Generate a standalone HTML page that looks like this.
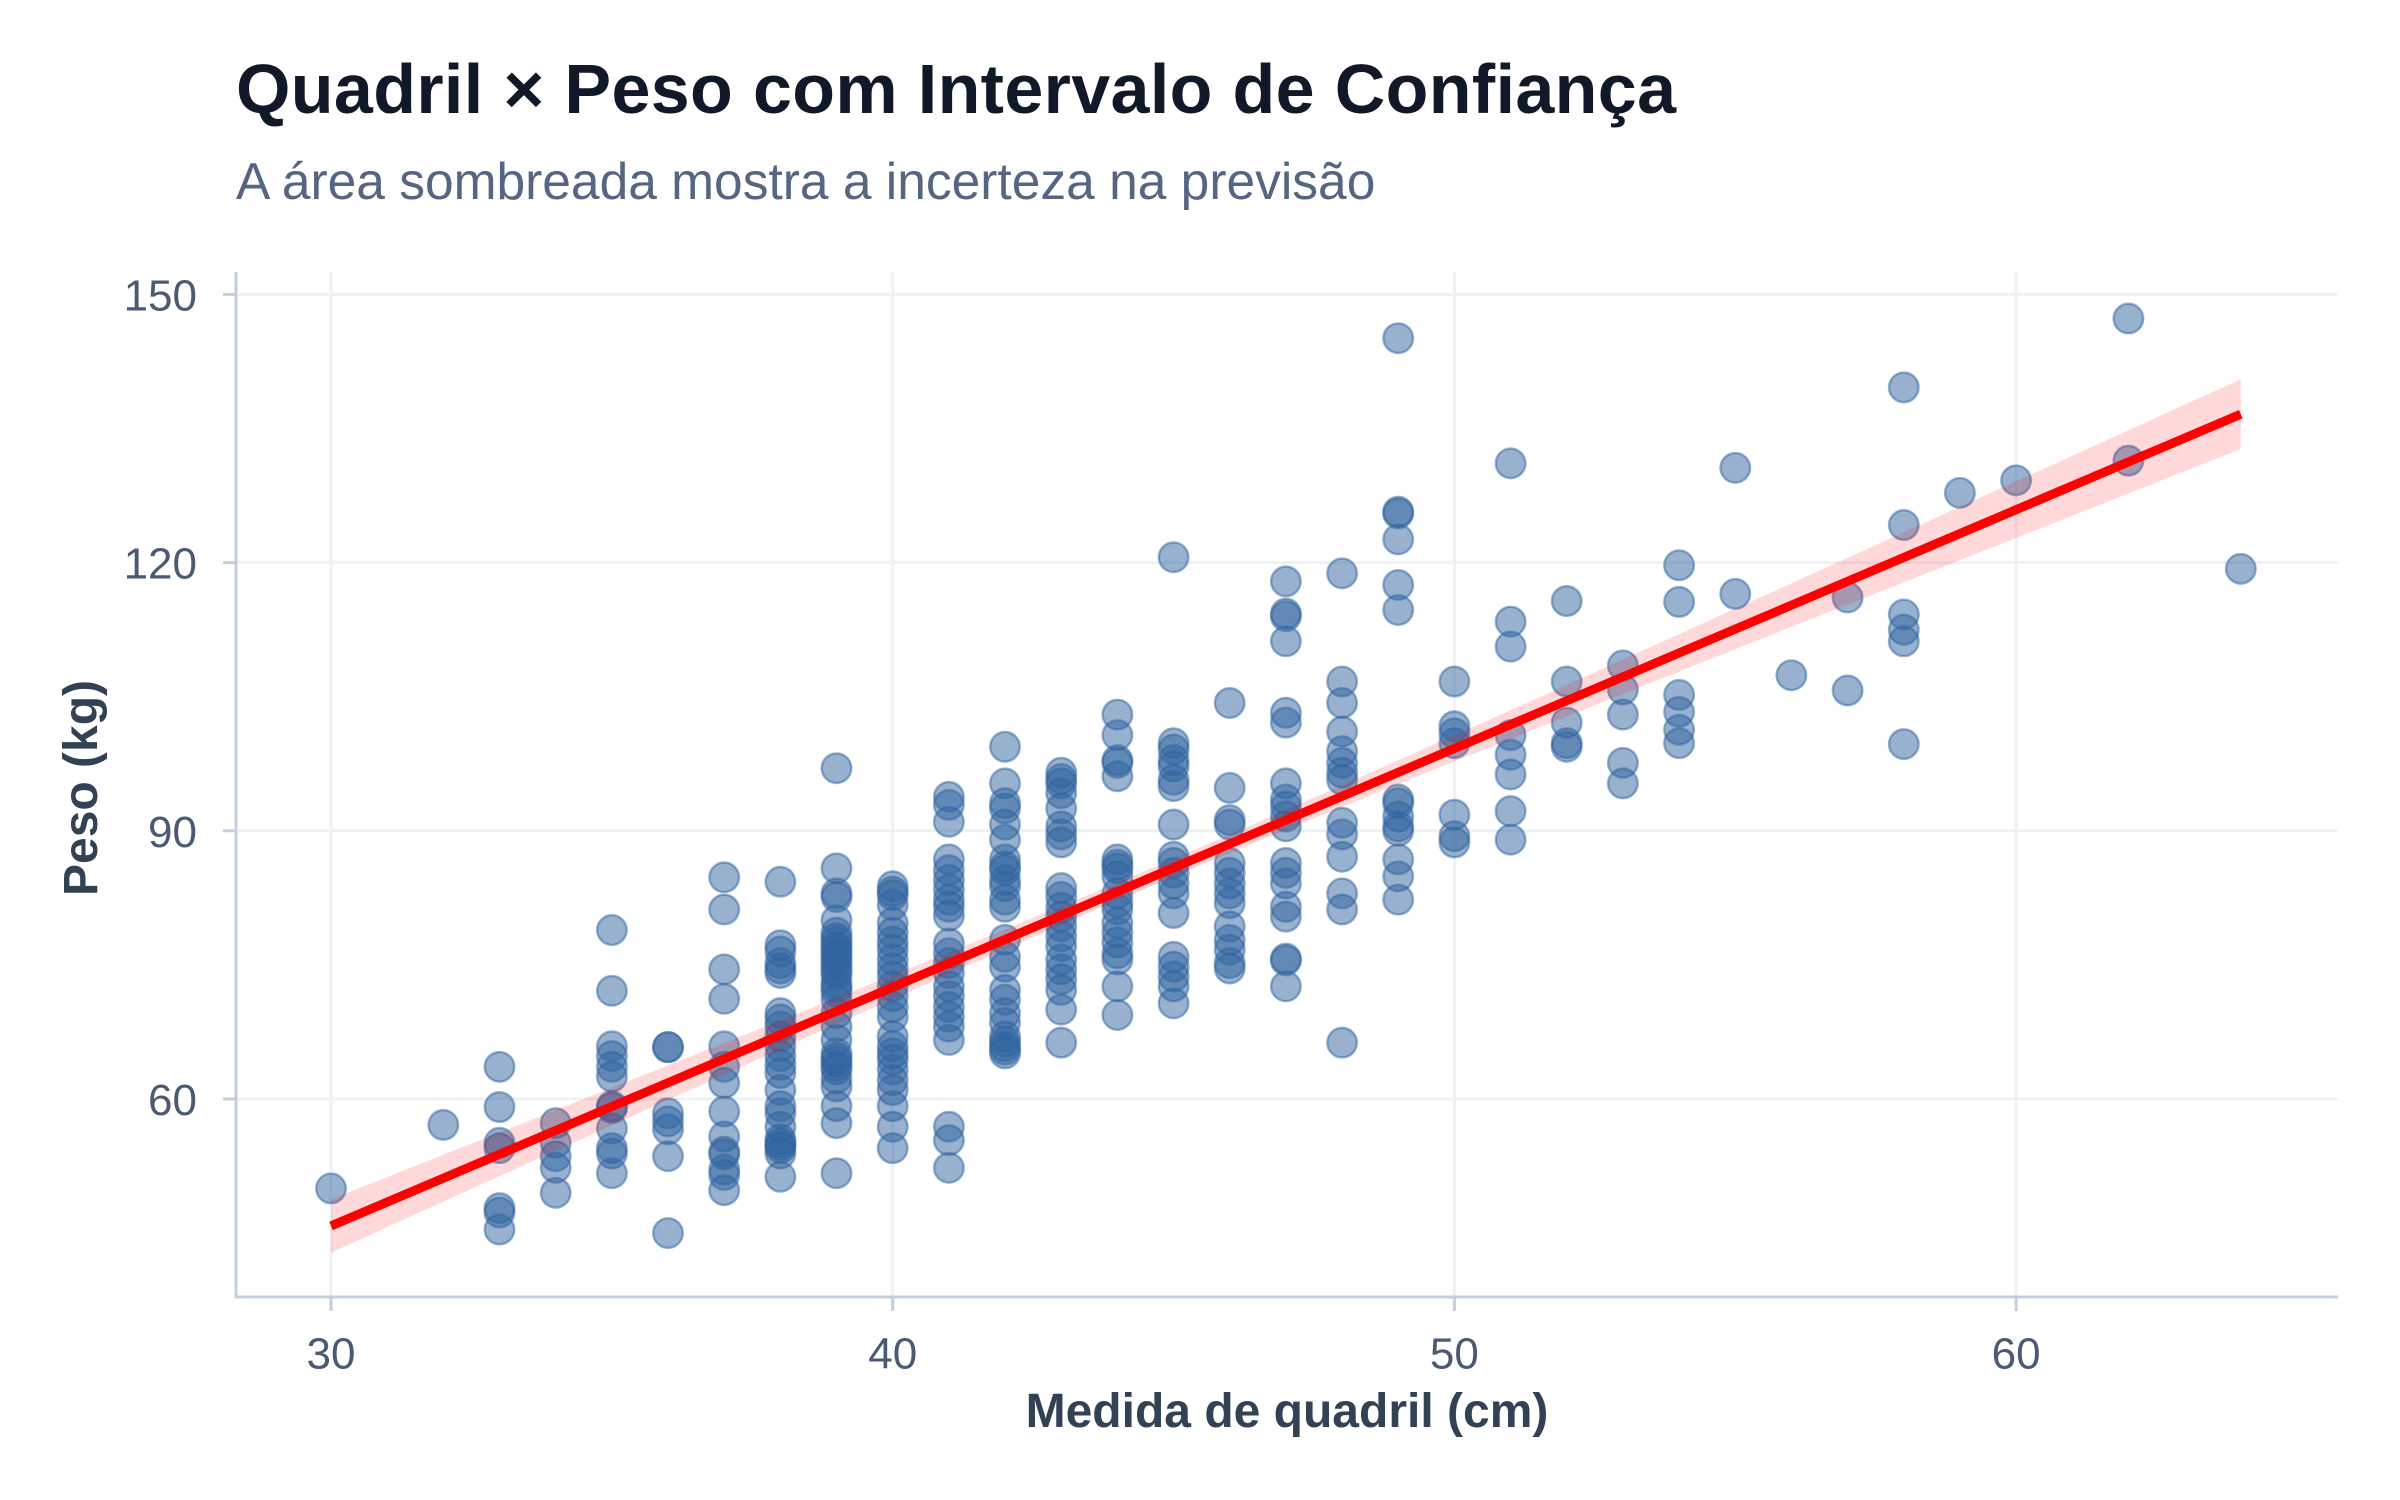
<!DOCTYPE html>
<html>
<head>
<meta charset="utf-8">
<style>
html,body{margin:0;padding:0;background:#ffffff;}
svg{display:block;}
text{font-family:"Liberation Sans",Arial,Helvetica,sans-serif;}
#pts circle{fill:#3064a0;fill-opacity:.5;stroke:#3064a0;stroke-opacity:.5;stroke-width:2.4;transform:translate(var(--x),calc(1635.4px - 8.94px * var(--v)));}
</style>
</head>
<body>
<svg width="2400" height="1500" viewBox="0 0 2400 1500" xmlns="http://www.w3.org/2000/svg">
<rect width="2400" height="1500" fill="#ffffff"/>
<g stroke="#eef1f6" stroke-width="3">
<line x1="331" y1="272" x2="331" y2="1297"/>
<line x1="892.7" y1="272" x2="892.7" y2="1297"/>
<line x1="1454.4" y1="272" x2="1454.4" y2="1297"/>
<line x1="2016.1" y1="272" x2="2016.1" y2="1297"/>
<line x1="236" y1="294.4" x2="2338" y2="294.4"/>
<line x1="236" y1="562.6" x2="2338" y2="562.6"/>
<line x1="236" y1="830.8" x2="2338" y2="830.8"/>
<line x1="236" y1="1099" x2="2338" y2="1099"/>
</g>
<g id="pts">
<g style="--x:331px"><circle r="14.8" style="--v:50.0"/></g>
<g style="--x:443.3px"><circle r="14.8" style="--v:57.1"/></g>
<g style="--x:499.5px"><circle r="14.8" style="--v:63.6"/><circle r="14.8" style="--v:59.1"/><circle r="14.8" style="--v:55.1"/><circle r="14.8" style="--v:54.5"/><circle r="14.8" style="--v:47.8"/><circle r="14.8" style="--v:47.3"/><circle r="14.8" style="--v:45.4"/></g>
<g style="--x:555.7px"><circle r="14.8" style="--v:57.3"/><circle r="14.8" style="--v:55.1"/><circle r="14.8" style="--v:53.6"/><circle r="14.8" style="--v:52.3"/><circle r="14.8" style="--v:49.5"/></g>
<g style="--x:611.9px"><circle r="14.8" style="--v:78.9"/><circle r="14.8" style="--v:72.1"/><circle r="14.8" style="--v:65.9"/><circle r="14.8" style="--v:64.8"/><circle r="14.8" style="--v:63.6"/><circle r="14.8" style="--v:62.5"/><circle r="14.8" style="--v:59.2"/><circle r="14.8" style="--v:59.0"/><circle r="14.8" style="--v:56.7"/><circle r="14.8" style="--v:54.5"/><circle r="14.8" style="--v:53.9"/><circle r="14.8" style="--v:51.7"/></g>
<g style="--x:668px"><circle r="14.8" style="--v:65.8"/><circle r="14.8" style="--v:65.8"/><circle r="14.8" style="--v:58.4"/><circle r="14.8" style="--v:57.5"/><circle r="14.8" style="--v:56.6"/><circle r="14.8" style="--v:53.6"/><circle r="14.8" style="--v:45.0"/></g>
<g style="--x:724.2px"><circle r="14.8" style="--v:84.8"/><circle r="14.8" style="--v:81.2"/><circle r="14.8" style="--v:74.5"/><circle r="14.8" style="--v:71.2"/><circle r="14.8" style="--v:65.9"/><circle r="14.8" style="--v:63.6"/><circle r="14.8" style="--v:61.8"/><circle r="14.8" style="--v:58.6"/><circle r="14.8" style="--v:55.8"/><circle r="14.8" style="--v:54.1"/><circle r="14.8" style="--v:53.8"/><circle r="14.8" style="--v:52.1"/><circle r="14.8" style="--v:51.5"/><circle r="14.8" style="--v:49.8"/></g>
<g style="--x:780.4px"><circle r="14.8" style="--v:84.3"/><circle r="14.8" style="--v:77.2"/><circle r="14.8" style="--v:76.5"/><circle r="14.8" style="--v:75.2"/><circle r="14.8" style="--v:74.6"/><circle r="14.8" style="--v:74.1"/><circle r="14.8" style="--v:69.6"/><circle r="14.8" style="--v:68.9"/><circle r="14.8" style="--v:68.1"/><circle r="14.8" style="--v:67.0"/><circle r="14.8" style="--v:65.9"/><circle r="14.8" style="--v:64.8"/><circle r="14.8" style="--v:63.8"/><circle r="14.8" style="--v:62.9"/><circle r="14.8" style="--v:61.0"/><circle r="14.8" style="--v:59.2"/><circle r="14.8" style="--v:58.4"/><circle r="14.8" style="--v:56.9"/><circle r="14.8" style="--v:55.5"/><circle r="14.8" style="--v:55.1"/><circle r="14.8" style="--v:54.8"/><circle r="14.8" style="--v:54.5"/><circle r="14.8" style="--v:53.9"/><circle r="14.8" style="--v:51.3"/></g>
<g style="--x:836.5px"><circle r="14.8" style="--v:97.0"/><circle r="14.8" style="--v:85.8"/><circle r="14.8" style="--v:83.0"/><circle r="14.8" style="--v:82.6"/><circle r="14.8" style="--v:80.0"/><circle r="14.8" style="--v:78.6"/><circle r="14.8" style="--v:78.0"/><circle r="14.8" style="--v:77.6"/><circle r="14.8" style="--v:77.0"/><circle r="14.8" style="--v:76.7"/><circle r="14.8" style="--v:76.2"/><circle r="14.8" style="--v:75.8"/><circle r="14.8" style="--v:75.3"/><circle r="14.8" style="--v:74.8"/><circle r="14.8" style="--v:74.3"/><circle r="14.8" style="--v:73.9"/><circle r="14.8" style="--v:73.0"/><circle r="14.8" style="--v:72.5"/><circle r="14.8" style="--v:72.0"/><circle r="14.8" style="--v:71.1"/><circle r="14.8" style="--v:69.6"/><circle r="14.8" style="--v:68.1"/><circle r="14.8" style="--v:66.6"/><circle r="14.8" style="--v:65.1"/><circle r="14.8" style="--v:64.6"/><circle r="14.8" style="--v:64.2"/><circle r="14.8" style="--v:63.7"/><circle r="14.8" style="--v:63.3"/><circle r="14.8" style="--v:62.3"/><circle r="14.8" style="--v:61.4"/><circle r="14.8" style="--v:59.2"/><circle r="14.8" style="--v:57.3"/><circle r="14.8" style="--v:51.7"/></g>
<g style="--x:892.7px"><circle r="14.8" style="--v:83.8"/><circle r="14.8" style="--v:83.2"/><circle r="14.8" style="--v:82.8"/><circle r="14.8" style="--v:81.7"/><circle r="14.8" style="--v:79.7"/><circle r="14.8" style="--v:78.6"/><circle r="14.8" style="--v:77.6"/><circle r="14.8" style="--v:76.7"/><circle r="14.8" style="--v:75.6"/><circle r="14.8" style="--v:74.6"/><circle r="14.8" style="--v:73.7"/><circle r="14.8" style="--v:72.6"/><circle r="14.8" style="--v:71.5"/><circle r="14.8" style="--v:70.3"/><circle r="14.8" style="--v:69.2"/><circle r="14.8" style="--v:67.0"/><circle r="14.8" style="--v:65.9"/><circle r="14.8" style="--v:65.1"/><circle r="14.8" style="--v:64.4"/><circle r="14.8" style="--v:63.3"/><circle r="14.8" style="--v:62.1"/><circle r="14.8" style="--v:61.0"/><circle r="14.8" style="--v:59.2"/><circle r="14.8" style="--v:56.9"/><circle r="14.8" style="--v:54.5"/></g>
<g style="--x:948.9px"><circle r="14.8" style="--v:93.8"/><circle r="14.8" style="--v:92.9"/><circle r="14.8" style="--v:91.0"/><circle r="14.8" style="--v:86.8"/><circle r="14.8" style="--v:85.6"/><circle r="14.8" style="--v:84.5"/><circle r="14.8" style="--v:83.4"/><circle r="14.8" style="--v:82.3"/><circle r="14.8" style="--v:81.5"/><circle r="14.8" style="--v:80.5"/><circle r="14.8" style="--v:77.4"/><circle r="14.8" style="--v:76.3"/><circle r="14.8" style="--v:75.2"/><circle r="14.8" style="--v:74.1"/><circle r="14.8" style="--v:72.6"/><circle r="14.8" style="--v:71.5"/><circle r="14.8" style="--v:70.3"/><circle r="14.8" style="--v:69.2"/><circle r="14.8" style="--v:68.1"/><circle r="14.8" style="--v:66.6"/><circle r="14.8" style="--v:56.9"/><circle r="14.8" style="--v:55.4"/><circle r="14.8" style="--v:52.3"/></g>
<g style="--x:1005px"><circle r="14.8" style="--v:99.4"/><circle r="14.8" style="--v:95.3"/><circle r="14.8" style="--v:93.1"/><circle r="14.8" style="--v:92.5"/><circle r="14.8" style="--v:90.7"/><circle r="14.8" style="--v:89.0"/><circle r="14.8" style="--v:86.8"/><circle r="14.8" style="--v:86.0"/><circle r="14.8" style="--v:85.6"/><circle r="14.8" style="--v:84.5"/><circle r="14.8" style="--v:83.8"/><circle r="14.8" style="--v:82.3"/><circle r="14.8" style="--v:81.5"/><circle r="14.8" style="--v:77.8"/><circle r="14.8" style="--v:75.9"/><circle r="14.8" style="--v:74.8"/><circle r="14.8" style="--v:72.2"/><circle r="14.8" style="--v:71.1"/><circle r="14.8" style="--v:69.6"/><circle r="14.8" style="--v:68.5"/><circle r="14.8" style="--v:67.0"/><circle r="14.8" style="--v:66.4"/><circle r="14.8" style="--v:65.9"/><circle r="14.8" style="--v:65.5"/><circle r="14.8" style="--v:65.1"/></g>
<g style="--x:1061.2px"><circle r="14.8" style="--v:96.5"/><circle r="14.8" style="--v:95.8"/><circle r="14.8" style="--v:95.3"/><circle r="14.8" style="--v:94.2"/><circle r="14.8" style="--v:92.5"/><circle r="14.8" style="--v:90.5"/><circle r="14.8" style="--v:89.6"/><circle r="14.8" style="--v:88.7"/><circle r="14.8" style="--v:83.6"/><circle r="14.8" style="--v:82.6"/><circle r="14.8" style="--v:81.4"/><circle r="14.8" style="--v:80.4"/><circle r="14.8" style="--v:79.3"/><circle r="14.8" style="--v:78.2"/><circle r="14.8" style="--v:77.1"/><circle r="14.8" style="--v:75.6"/><circle r="14.8" style="--v:74.5"/><circle r="14.8" style="--v:73.4"/><circle r="14.8" style="--v:72.2"/><circle r="14.8" style="--v:70.0"/><circle r="14.8" style="--v:66.3"/></g>
<g style="--x:1117.4px"><circle r="14.8" style="--v:103.0"/><circle r="14.8" style="--v:100.7"/><circle r="14.8" style="--v:97.9"/><circle r="14.8" style="--v:97.6"/><circle r="14.8" style="--v:96.1"/><circle r="14.8" style="--v:86.8"/><circle r="14.8" style="--v:86.2"/><circle r="14.8" style="--v:85.8"/><circle r="14.8" style="--v:84.9"/><circle r="14.8" style="--v:83.0"/><circle r="14.8" style="--v:82.0"/><circle r="14.8" style="--v:81.2"/><circle r="14.8" style="--v:79.7"/><circle r="14.8" style="--v:78.6"/><circle r="14.8" style="--v:77.5"/><circle r="14.8" style="--v:76.3"/><circle r="14.8" style="--v:75.6"/><circle r="14.8" style="--v:72.6"/><circle r="14.8" style="--v:69.4"/></g>
<g style="--x:1173.6px"><circle r="14.8" style="--v:120.6"/><circle r="14.8" style="--v:99.8"/><circle r="14.8" style="--v:99.1"/><circle r="14.8" style="--v:97.9"/><circle r="14.8" style="--v:97.2"/><circle r="14.8" style="--v:95.7"/><circle r="14.8" style="--v:95.0"/><circle r="14.8" style="--v:90.7"/><circle r="14.8" style="--v:87.1"/><circle r="14.8" style="--v:86.4"/><circle r="14.8" style="--v:85.3"/><circle r="14.8" style="--v:84.1"/><circle r="14.8" style="--v:83.0"/><circle r="14.8" style="--v:80.8"/><circle r="14.8" style="--v:75.9"/><circle r="14.8" style="--v:74.8"/><circle r="14.8" style="--v:73.7"/><circle r="14.8" style="--v:72.6"/><circle r="14.8" style="--v:70.7"/></g>
<g style="--x:1229.7px"><circle r="14.8" style="--v:104.3"/><circle r="14.8" style="--v:94.8"/><circle r="14.8" style="--v:91.2"/><circle r="14.8" style="--v:90.7"/><circle r="14.8" style="--v:86.4"/><circle r="14.8" style="--v:85.3"/><circle r="14.8" style="--v:84.1"/><circle r="14.8" style="--v:83.0"/><circle r="14.8" style="--v:81.9"/><circle r="14.8" style="--v:79.3"/><circle r="14.8" style="--v:77.8"/><circle r="14.8" style="--v:76.7"/><circle r="14.8" style="--v:75.2"/><circle r="14.8" style="--v:74.6"/></g>
<g style="--x:1285.9px"><circle r="14.8" style="--v:117.9"/><circle r="14.8" style="--v:114.3"/><circle r="14.8" style="--v:114.0"/><circle r="14.8" style="--v:111.2"/><circle r="14.8" style="--v:103.2"/><circle r="14.8" style="--v:102.1"/><circle r="14.8" style="--v:95.3"/><circle r="14.8" style="--v:93.5"/><circle r="14.8" style="--v:92.7"/><circle r="14.8" style="--v:91.6"/><circle r="14.8" style="--v:90.5"/><circle r="14.8" style="--v:86.4"/><circle r="14.8" style="--v:85.3"/><circle r="14.8" style="--v:84.1"/><circle r="14.8" style="--v:81.5"/><circle r="14.8" style="--v:80.4"/><circle r="14.8" style="--v:75.7"/><circle r="14.8" style="--v:75.5"/><circle r="14.8" style="--v:72.6"/></g>
<g style="--x:1342.1px"><circle r="14.8" style="--v:118.8"/><circle r="14.8" style="--v:106.7"/><circle r="14.8" style="--v:104.3"/><circle r="14.8" style="--v:101.1"/><circle r="14.8" style="--v:98.9"/><circle r="14.8" style="--v:97.6"/><circle r="14.8" style="--v:96.5"/><circle r="14.8" style="--v:95.7"/><circle r="14.8" style="--v:90.9"/><circle r="14.8" style="--v:89.6"/><circle r="14.8" style="--v:87.1"/><circle r="14.8" style="--v:83.0"/><circle r="14.8" style="--v:81.2"/><circle r="14.8" style="--v:66.3"/></g>
<g style="--x:1398.2px"><circle r="14.8" style="--v:145.1"/><circle r="14.8" style="--v:125.7"/><circle r="14.8" style="--v:125.5"/><circle r="14.8" style="--v:122.6"/><circle r="14.8" style="--v:117.5"/><circle r="14.8" style="--v:114.7"/><circle r="14.8" style="--v:93.5"/><circle r="14.8" style="--v:93.1"/><circle r="14.8" style="--v:91.6"/><circle r="14.8" style="--v:90.5"/><circle r="14.8" style="--v:90.0"/><circle r="14.8" style="--v:86.8"/><circle r="14.8" style="--v:84.9"/><circle r="14.8" style="--v:82.3"/></g>
<g style="--x:1454.4px"><circle r="14.8" style="--v:106.7"/><circle r="14.8" style="--v:101.7"/><circle r="14.8" style="--v:100.9"/><circle r="14.8" style="--v:99.8"/><circle r="14.8" style="--v:91.8"/><circle r="14.8" style="--v:89.4"/><circle r="14.8" style="--v:88.7"/></g>
<g style="--x:1510.6px"><circle r="14.8" style="--v:131.1"/><circle r="14.8" style="--v:113.4"/><circle r="14.8" style="--v:110.6"/><circle r="14.8" style="--v:100.7"/><circle r="14.8" style="--v:98.5"/><circle r="14.8" style="--v:96.3"/><circle r="14.8" style="--v:92.2"/><circle r="14.8" style="--v:89.0"/></g>
<g style="--x:1566.7px"><circle r="14.8" style="--v:115.7"/><circle r="14.8" style="--v:106.7"/><circle r="14.8" style="--v:102.1"/><circle r="14.8" style="--v:99.8"/><circle r="14.8" style="--v:99.4"/></g>
<g style="--x:1622.9px"><circle r="14.8" style="--v:108.5"/><circle r="14.8" style="--v:105.8"/><circle r="14.8" style="--v:103.0"/><circle r="14.8" style="--v:97.6"/><circle r="14.8" style="--v:95.3"/></g>
<g style="--x:1679.1px"><circle r="14.8" style="--v:119.7"/><circle r="14.8" style="--v:115.6"/><circle r="14.8" style="--v:105.2"/><circle r="14.8" style="--v:103.3"/><circle r="14.8" style="--v:101.3"/><circle r="14.8" style="--v:99.8"/></g>
<g style="--x:1735.3px"><circle r="14.8" style="--v:130.6"/><circle r="14.8" style="--v:116.5"/></g>
<g style="--x:1791.4px"><circle r="14.8" style="--v:107.4"/></g>
<g style="--x:1847.6px"><circle r="14.8" style="--v:116.1"/><circle r="14.8" style="--v:105.7"/></g>
<g style="--x:1903.8px"><circle r="14.8" style="--v:139.6"/><circle r="14.8" style="--v:124.2"/><circle r="14.8" style="--v:114.2"/><circle r="14.8" style="--v:112.5"/><circle r="14.8" style="--v:111.2"/><circle r="14.8" style="--v:99.7"/></g>
<g style="--x:1959.9px"><circle r="14.8" style="--v:127.8"/></g>
<g style="--x:2016.1px"><circle r="14.8" style="--v:129.2"/></g>
<g style="--x:2128.4px"><circle r="14.8" style="--v:147.3"/><circle r="14.8" style="--v:131.4"/></g>
<g style="--x:2240.8px"><circle r="14.8" style="--v:119.3"/></g>
</g>
<g transform="matrix(56.17 0 0 -8.94 -1354.1 1635.4)">
<polygon fill="#ff0000" fill-opacity="0.15" points="30,48.78 32,53.76 34,58.75 36,63.76 38,68.78 40,73.84 42,78.96 44,84.19 46,89.58 48,95.09 50,100.68 52,106.32 54,112.00 56,117.69 58,123.39 60,129.10 62,134.81 64,140.52 64,132.70 62,127.73 60,122.76 58,117.79 56,112.81 54,107.80 52,102.80 50,97.76 48,92.67 46,87.50 44,82.19 42,76.74 40,71.18 38,65.56 36,59.90 34,54.21 32,48.52 30,42.82"/>
</g>
<line x1="331" y1="1225.95" x2="2240.8" y2="414.2" stroke="#ff0000" stroke-width="9"/>
<g stroke="#c4cfdd" stroke-width="3">
<line x1="236" y1="272" x2="236" y2="1298.5"/>
<line x1="234.5" y1="1297" x2="2338" y2="1297"/>
<line x1="223" y1="294.4" x2="236" y2="294.4"/>
<line x1="223" y1="562.6" x2="236" y2="562.6"/>
<line x1="223" y1="830.8" x2="236" y2="830.8"/>
<line x1="223" y1="1099" x2="236" y2="1099"/>
<line x1="331" y1="1297" x2="331" y2="1311"/>
<line x1="892.7" y1="1297" x2="892.7" y2="1311"/>
<line x1="1454.4" y1="1297" x2="1454.4" y2="1311"/>
<line x1="2016.1" y1="1297" x2="2016.1" y2="1311"/>
</g>
<g fill="#4b5a73" font-size="44">
<text x="197" y="310.4" text-anchor="end">150</text>
<text x="197" y="578.6" text-anchor="end">120</text>
<text x="197" y="846.8" text-anchor="end">90</text>
<text x="197" y="1115" text-anchor="end">60</text>
<text x="331" y="1368.5" text-anchor="middle">30</text>
<text x="892.7" y="1368.5" text-anchor="middle">40</text>
<text x="1454.4" y="1368.5" text-anchor="middle">50</text>
<text x="2016.1" y="1368.5" text-anchor="middle">60</text>
</g>
<text x="1287" y="1427" text-anchor="middle" font-size="48" font-weight="bold" fill="#334155">Medida de quadril (cm)</text>
<text transform="translate(97,788) rotate(-90)" text-anchor="middle" font-size="48" font-weight="bold" fill="#334155">Peso (kg)</text>
<text x="236" y="113" font-size="70" font-weight="bold" fill="#111827" textLength="1440" lengthAdjust="spacing">Quadril × Peso com Intervalo de Confiança</text>
<text x="236" y="199" font-size="51.5" fill="#566581">A área sombreada mostra a incerteza na previsão</text>
</svg>
</body>
</html>
